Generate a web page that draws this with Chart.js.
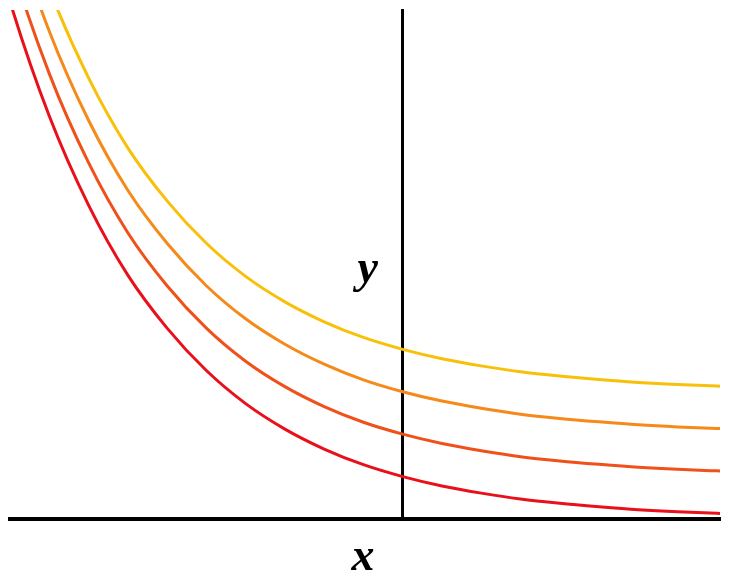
<!DOCTYPE html>
<html>
<head>
<meta charset="utf-8">
<script src="https://cdn.jsdelivr.net/npm/chart.js@4"></script>
<style>
  html, body { margin: 0; padding: 0; background: #ffffff; }
  #wrap { width: 730px; height: 585px; }
</style>
</head>
<body>
<div id="wrap"><canvas id="c" width="730" height="585"></canvas></div>
<script>
// x positions
const xs = [-2.75, -2.5, -2.25, -2, -1.75, -1.5, -1.25, -1, -0.75, -0.5, -0.25, 0, 0.25, 0.5, 0.75, 1, 1.25, 1.5, 1.75, 2, 2.25];

// series values (bottom to top)
const curveRed       = [15.6, 12.2, 9.5, 7.4, 5.75, 4.5, 3.5, 2.72, 2.12, 1.65, 1.28, 1.0, 0.78, 0.61, 0.47, 0.37, 0.29, 0.22, 0.17, 0.135, 0.105];
const curveOrangeRed = [16.6, 13.2, 10.5, 8.4, 6.75, 5.5, 4.5, 3.72, 3.12, 2.65, 2.28, 2.0, 1.78, 1.61, 1.47, 1.37, 1.29, 1.22, 1.17, 1.135, 1.105];
const curveOrange    = [17.6, 14.2, 11.5, 9.4, 7.75, 6.5, 5.5, 4.72, 4.12, 3.65, 3.28, 3.0, 2.78, 2.61, 2.47, 2.37, 2.29, 2.22, 2.17, 2.135, 2.105];
const curveYellow    = [18.6, 15.2, 12.5, 10.4, 8.75, 7.5, 6.5, 5.72, 5.12, 4.65, 4.28, 4.0, 3.78, 3.61, 3.47, 3.37, 3.29, 3.22, 3.17, 3.135, 3.105];

const seriesList = [curveRed, curveOrangeRed, curveOrange, curveYellow];
const seriesColors = ['#e8101a', '#f0501a', '#f58a1a', '#f8c00a'];

const toPoints = arr => arr.map((v, i) => ({ x: xs[i], y: v }));

const labelPlugin = {
  id: 'axisLabels',
  afterDraw(chart) {
    const ctx = chart.ctx;
    const xScale = chart.scales.x;
    const area = chart.chartArea;
    const x0 = xScale.getPixelForValue(0);
    ctx.save();
    ctx.fillStyle = '#000';
    ctx.font = 'italic bold 46px "Liberation Serif", "DejaVu Serif", serif';
    ctx.textAlign = 'center';
    ctx.textBaseline = 'alphabetic';
    ctx.fillText('y', x0 - 35, 282);
    ctx.fillText('x', (area.left + area.right) / 2 - 2, 570);
    ctx.restore();
  }
};

new Chart(document.getElementById('c'), {
  type: 'line',
  data: {
    datasets: seriesList.map((arr, i) => ({
      data: toPoints(arr),
      borderColor: seriesColors[i],
      borderWidth: 3,
      pointRadius: 0,
      fill: false,
      cubicInterpolationMode: 'monotone',
      clip: 0
    }))
  },
  options: {
    responsive: false,
    animation: false,
    layout: { padding: { left: 10, right: 10, top: 10, bottom: 66 } },
    plugins: { legend: { display: false }, tooltip: { enabled: false } },
    scales: {
      x: {
        type: 'linear',
        min: -2.5,
        max: 2.02,
        grid: { display: false, drawTicks: false },
        ticks: { display: false },
        border: { display: true, color: '#000', width: 4 },
        afterFit: s => { s.height = 0; }
      },
      y: {
        type: 'linear',
        position: { x: 0 },
        min: 0,
        max: 12,
        grid: { display: false, drawTicks: false },
        ticks: { display: false },
        border: { display: true, color: '#000', width: 3 },
        afterFit: s => { s.width = 0; }
      }
    }
  },
  plugins: [labelPlugin]
});
</script>
</body>
</html>
